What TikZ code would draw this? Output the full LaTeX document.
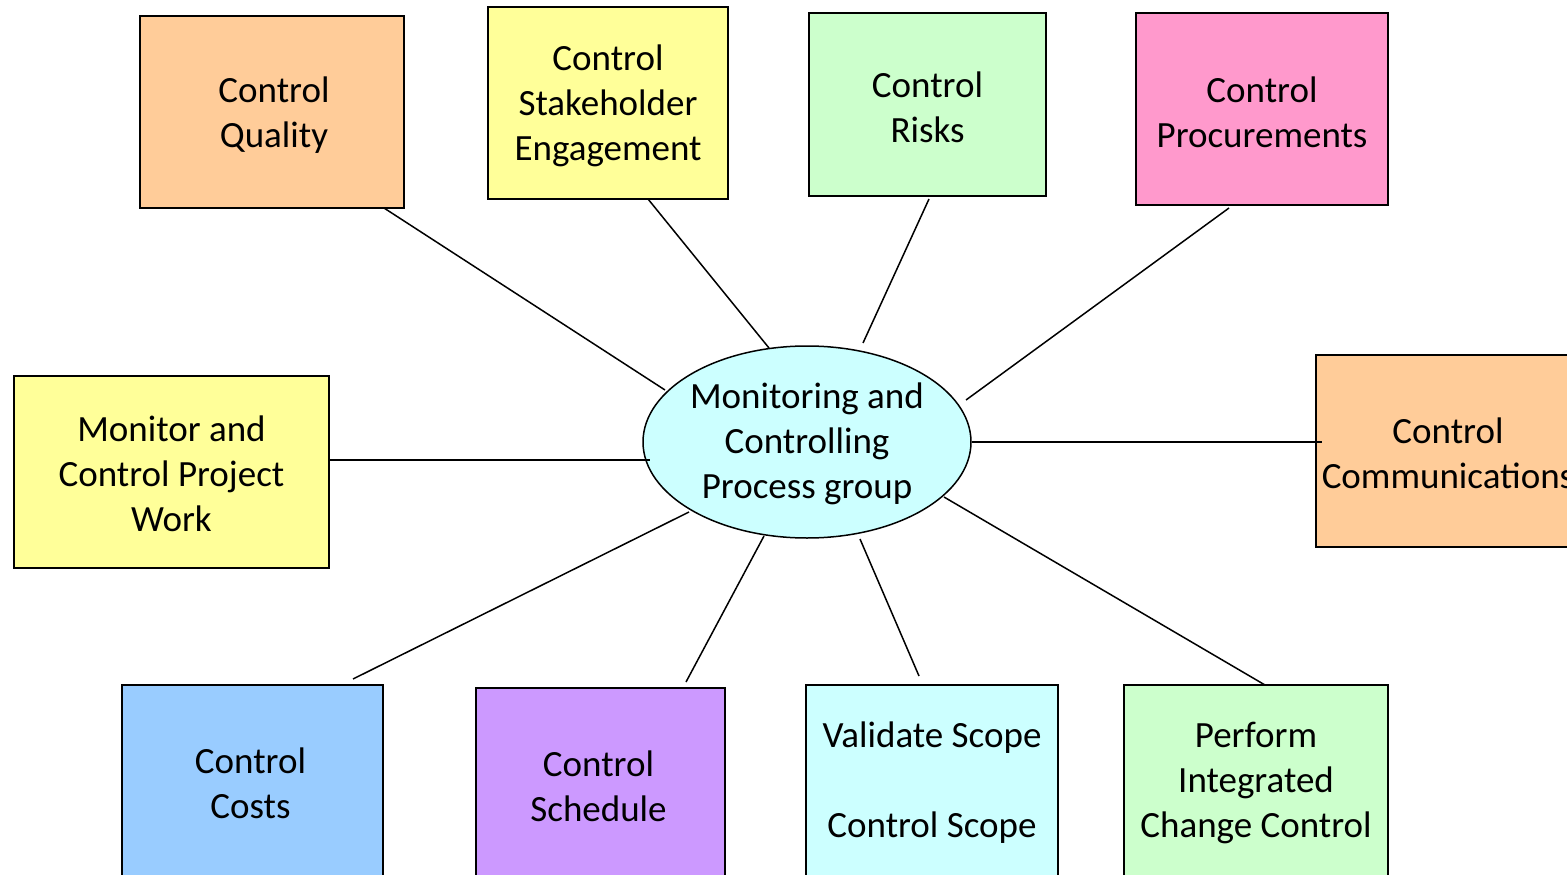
\documentclass[tikz,border=0pt]{standalone}
\usepackage{fontspec}
\setmainfont{Carlito}
\usetikzlibrary{shapes.geometric}
\definecolor{cpeach}{HTML}{FFCC99}
\definecolor{cyellow}{HTML}{FFFF99}
\definecolor{cgreen}{HTML}{CCFFCC}
\definecolor{cpink}{HTML}{FF99CC}
\definecolor{cblue}{HTML}{99CCFF}
\definecolor{cpurple}{HTML}{CC99FF}
\definecolor{ccyan}{HTML}{CCFFFF}
\tikzset{
  procbox/.style={draw=black, line width=2pt, rectangle, inner sep=0pt},
  boxtext/.style={inner sep=0pt, align=center, font=\fontsize{37}{45}\selectfont},
  hubnode/.style={draw=black, line width=1.5pt, ellipse, fill=ccyan, inner sep=0pt,
    minimum width=328pt, minimum height=192pt},
  link/.style={line width=1.5pt, draw=black}
}
\begin{document}
\begin{tikzpicture}[x=1pt,y=-1pt]
\useasboundingbox (0,0) rectangle (1567,875);
\clip (0,0) rectangle (1567,875);
\fill[white] (0,0) rectangle (1567,875);
% boxes
\node[procbox, fill=cpeach, minimum width=264pt, minimum height=192pt] (cq) at (272,112) {};
\node[boxtext] (cq-t) at ([xshift=2pt,yshift=-3pt]cq.center) {Control\\ Quality};
\node[procbox, fill=cyellow, minimum width=240pt, minimum height=192pt] (cse) at (608,103) {};
\node[boxtext] (cse-t) at ([yshift=-3pt]cse.center) {Control\\ Stakeholder\\ Engagement};
\node[procbox, fill=cgreen, minimum width=237pt, minimum height=183pt] (cr) at (927.5,104.5) {};
\node[boxtext] (cr-t) at ([yshift=-3pt]cr.center) {Control\\ Risks};
\node[procbox, fill=cpink, minimum width=252pt, minimum height=192pt] (cp) at (1262,109) {};
\node[boxtext] (cp-t) at ([yshift=-3pt]cp.center) {Control\\ Procurements};
\node[procbox, fill=cyellow, minimum width=315pt, minimum height=192pt] (mcw) at (171.5,472) {};
\node[boxtext] (mcw-t) at ([yshift=-2pt]mcw.center) {Monitor and\\ Control Project\\ Work};
\node[procbox, fill=cpeach, minimum width=264pt, minimum height=192pt] (cc) at (1448,451) {};
\node[boxtext] (cc-t) at ([yshift=-2pt]cc.center) {Control\\ Communications};
\node[procbox, fill=cblue, minimum width=261pt, minimum height=192pt] (cco) at (252.5,781) {};
\node[boxtext] (cco-t) at ([xshift=-2pt,yshift=-2pt]cco.center) {Control\\ Costs};
\node[procbox, fill=cpurple, minimum width=249pt, minimum height=192pt] (cs) at (600.5,784) {};
\node[boxtext] (cs-t) at ([xshift=-2pt,yshift=-2pt]cs.center) {Control\\ Schedule};
\node[procbox, fill=ccyan, minimum width=252pt, minimum height=192pt] (vs) at (932,781) {};
\node[boxtext] (vs-t) at ([yshift=-2pt]vs.center) {Validate Scope\\[45pt] Control Scope};
\node[procbox, fill=cgreen, minimum width=264pt, minimum height=192pt] (pic) at (1256,781) {};
\node[boxtext] (pic-t) at ([yshift=-2pt]pic.center) {Perform\\ Integrated\\ Change Control};
% hub
\node[hubnode] (hub) at (807,442) {};
\node[boxtext] (hub-t) at ([yshift=-2pt]hub.center) {Monitoring and\\ Controlling\\ Process group};
% connector end points
\coordinate (a1) at (384,208); \coordinate (b1) at (665,390);
\coordinate (a2) at (648,199); \coordinate (b2) at (769,348);
\coordinate (a3) at (929,199); \coordinate (b3) at (863,343);
\coordinate (a4) at (1229,208); \coordinate (b4) at (966,400);
\coordinate (a5) at (329,460); \coordinate (b5) at (650,460);
\coordinate (a6) at (1322,442); \coordinate (b6) at (972,442);
\coordinate (a7) at (353,679); \coordinate (b7) at (689,512);
\coordinate (a8) at (686,682); \coordinate (b8) at (764,536);
\coordinate (a9) at (919,676); \coordinate (b9) at (860,539);
\coordinate (a10) at (1265,685); \coordinate (b10) at (944,497);
\draw[link] (a1) -- (b1);
\draw[link] (a2) -- (b2);
\draw[link] (a3) -- (b3);
\draw[link] (a4) -- (b4);
\draw[link] (a5) -- (b5);
\draw[link] (b6) -- (a6);
\draw[link] (a7) -- (b7);
\draw[link] (a8) -- (b8);
\draw[link] (a9) -- (b9);
\draw[link] (a10) -- (b10);
\end{tikzpicture}
\end{document}
